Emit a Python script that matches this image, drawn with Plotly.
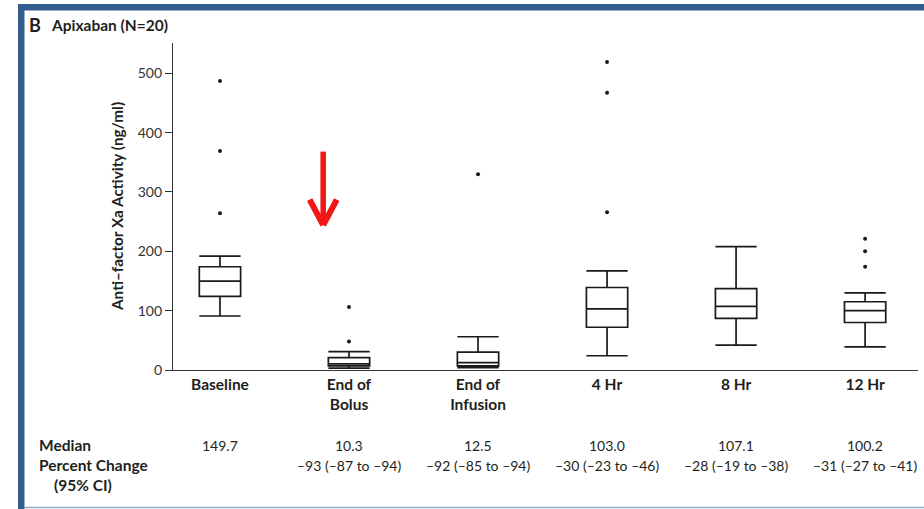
import plotly.graph_objects as go

# Anti-factor Xa activity, apixaban arm (N=20)
categories = ["Baseline", "End of Bolus", "End of Infusion", "4 Hr", "8 Hr", "12 Hr"]
tick_labels = ["Baseline", "End of<br>Bolus", "End of<br>Infusion", "4 Hr", "8 Hr", "12 Hr"]

medians = [149.7, 10.3, 12.5, 103.0, 107.1, 100.2]
q1_values = [124, 7, 7, 72, 87, 80]
q3_values = [174, 21, 30, 139, 137, 115]
lower_whiskers = [91, 3, 4, 24, 42, 39]
upper_whiskers = [192, 31, 56, 167, 208, 130]
outliers = [[264, 369, 487], [48, 106], [330], [266, 467, 519], [], [174, 200, 221]]

median_labels = ["149.7", "10.3", "12.5", "103.0", "107.1", "100.2"]
pct_change_labels = ["", "–93 (–87 to –94)", "–92 (–85 to –94)",
                     "–30 (–23 to –46)", "–28 (–19 to –38)", "–31 (–27 to –41)"]

y_ticks = [0, 100, 200, 300, 400, 500]

FONT = "Lato"
INK = "#231f20"
FRAME_BLUE = "#335d8f"

fig = go.Figure()

fig.add_trace(go.Box(
    x=categories,
    q1=q1_values,
    median=medians,
    q3=q3_values,
    lowerfence=lower_whiskers,
    upperfence=upper_whiskers,
    width=0.32,
    whiskerwidth=1,
    fillcolor="white",
    line=dict(color="#1a1a1a", width=1.7),
    boxpoints=False,
    hoverinfo="skip",
    showlegend=False,
))

out_x = [c for c, pts in zip(categories, outliers) for _ in pts]
out_y = [v for pts in outliers for v in pts]
fig.add_trace(go.Scatter(
    x=out_x, y=out_y, mode="markers",
    marker=dict(color="#1a1a1a", size=4),
    hoverinfo="skip", showlegend=False,
))

shapes = []
# panel frame: dark rule on the left and top, pale rule along the bottom
def px_to_paper_x(px):
    return (px - 173) / 745.0

def px_to_paper_y(py):
    return (370 - py) / 327.0

shapes.append(dict(type="rect", xref="paper", yref="paper",
                   x0=px_to_paper_x(18), x1=px_to_paper_x(24.5),
                   y0=px_to_paper_y(509), y1=px_to_paper_y(4),
                   fillcolor=FRAME_BLUE, line=dict(width=0), layer="below"))
shapes.append(dict(type="rect", xref="paper", yref="paper",
                   x0=px_to_paper_x(18), x1=px_to_paper_x(925),
                   y0=px_to_paper_y(10.5), y1=px_to_paper_y(4),
                   fillcolor=FRAME_BLUE, line=dict(width=0), layer="below"))
shapes.append(dict(type="line", xref="paper", yref="paper",
                   x0=px_to_paper_x(24), x1=px_to_paper_x(925),
                   y0=px_to_paper_y(507.5), y1=px_to_paper_y(507.5),
                   line=dict(color="#94abc8", width=1.5)))

# red arrow pointing down at the end-of-bolus box
arrow_x, arrow_top, arrow_tip, head_base, head_half = 0.80, 368, 244, 287, 0.105
ARROW_RED = "#f21616"
shapes.append(dict(type="line", xref="x", yref="y",
                   x0=arrow_x, x1=arrow_x, y0=arrow_top, y1=arrow_tip + 5,
                   line=dict(color=ARROW_RED, width=5.5)))
for side in (-1, 1):
    shapes.append(dict(type="line", xref="x", yref="y",
                       x0=arrow_x + side * head_half, y0=head_base,
                       x1=arrow_x, y1=arrow_tip,
                       line=dict(color=ARROW_RED, width=6)))

annotations = []
annotations.append(dict(xref="paper", yref="paper", x=px_to_paper_x(27), y=px_to_paper_y(25),
                        xanchor="left", yanchor="middle", showarrow=False,
                        text="<b>B</b>", font=dict(family=FONT, size=18, color=INK)))
annotations.append(dict(xref="paper", yref="paper", x=px_to_paper_x(49), y=px_to_paper_y(25),
                        xanchor="left", yanchor="middle", showarrow=False,
                        text="Apixaban (N=20)",
                        font=dict(family=FONT, size=15.5, color=INK, weight="bold")))
annotations.append(dict(xref="paper", yref="paper", x=px_to_paper_x(117), y=px_to_paper_y(207),
                        xanchor="center", yanchor="middle", showarrow=False, textangle=-90,
                        text="Anti–factor Xa Activity (ng/ml)",
                        font=dict(family=FONT, size=15.3, color=INK, weight="bold")))

# summary table under the axis
row_median_y = px_to_paper_y(445)
row_pct_y = px_to_paper_y(465)
row_ci_y = px_to_paper_y(485)
for text, y, x in [("Median", row_median_y, 37), ("Percent Change", row_pct_y, 37),
                   ("(95% CI)", row_ci_y, 52)]:
    annotations.append(dict(xref="paper", yref="paper", x=px_to_paper_x(x), y=y,
                            xanchor="left", yanchor="middle", showarrow=False, text=text,
                            font=dict(family=FONT, size=15.5, color=INK, weight="bold")))
for cat, med, pct in zip(categories, median_labels, pct_change_labels):
    annotations.append(dict(xref="x", yref="paper", x=cat, y=row_median_y,
                            xanchor="center", yanchor="middle", showarrow=False, text=med,
                            font=dict(family=FONT, size=14, color=INK)))
    if pct:
        annotations.append(dict(xref="x", yref="paper", x=cat, y=row_pct_y,
                                xanchor="center", yanchor="middle", showarrow=False, text=pct,
                                font=dict(family=FONT, size=14, color=INK)))

fig.update_layout(
    width=924, height=509,
    margin=dict(l=173, r=6, t=43, b=139),
    paper_bgcolor="white", plot_bgcolor="white",
    font=dict(family=FONT, color=INK),
    shapes=shapes,
    annotations=annotations,
    xaxis=dict(
        type="category",
        range=[-0.364, 5.41],
        tickvals=categories, ticktext=tick_labels,
        tickfont=dict(family=FONT, size=15.5, color=INK, weight="bold"),
        showline=True, linecolor="#333333", linewidth=1.3,
        ticks="", showgrid=False, zeroline=False,
    ),
    yaxis=dict(
        range=[0, 551],
        tickvals=y_ticks,
        tickfont=dict(family=FONT, size=14, color="#333333"),
        showline=True, linecolor="#333333", linewidth=1.3,
        ticks="outside", ticklen=7, tickwidth=1.2, tickcolor="#333333",
        showgrid=False, zeroline=False,
    ),
)

fig.write_html("out.html")
